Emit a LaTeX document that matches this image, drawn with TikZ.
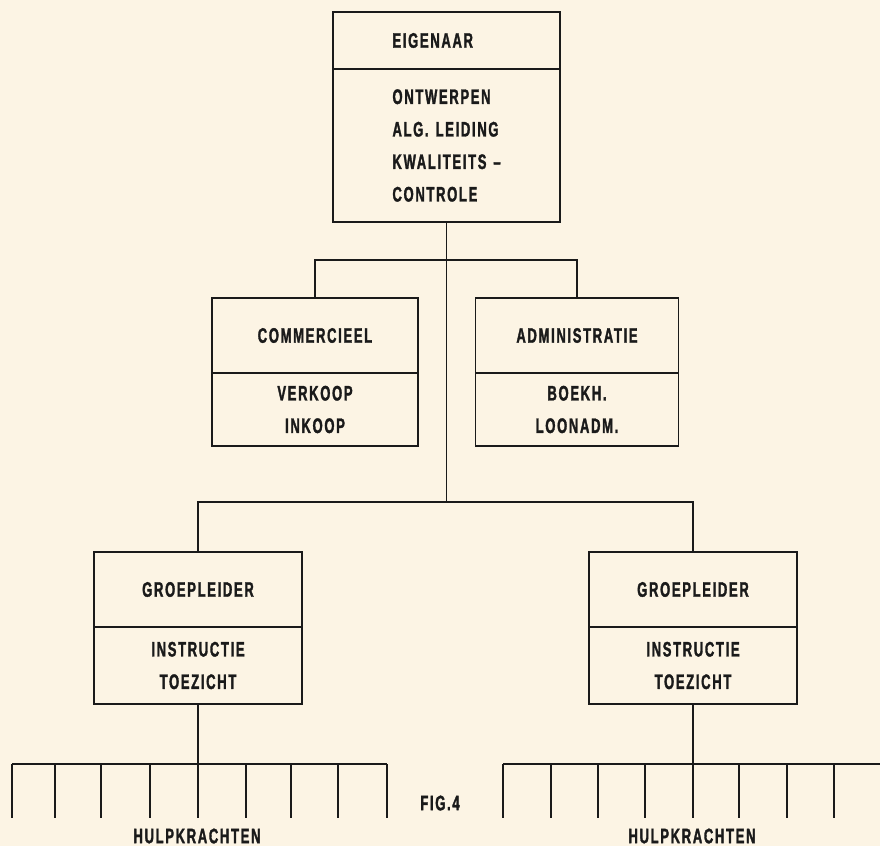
\documentclass[tikz,border=0pt]{standalone}
\usepackage{fontspec}
\newfontfamily\orgfont{Liberation Sans}[FakeStretch=0.62,LetterSpace=8,FakeBold=1.5]
\usetikzlibrary{positioning}
\tikzset{>=latex}
\definecolor{paper}{HTML}{FCF4E4}
\definecolor{ink}{HTML}{1A1A1A}

\begin{document}
\begin{tikzpicture}[x=1pt,y=-1pt,
  every node/.style={font=\orgfont\bfseries\fontsize{21}{32.5}\selectfont,
    text=ink, inner sep=0pt, outer sep=0pt},
  kop/.style={draw=ink, line width=1.8pt, minimum height=75pt, align=center},
  taak/.style={draw=ink, line width=1.8pt, minimum height=73pt, align=center},
  link/.style={draw=ink, line width=1.2pt}]
\fill[paper] (0,0) rectangle (880,846);
\useasboundingbox (0,0) rectangle (880,846);

\node[kop, minimum width=227pt, minimum height=57pt, text width=108pt, align=left] (eig) at (446.5,40.5) {EIGENAAR};
\node[taak, minimum width=227pt, minimum height=153pt, text width=108pt, align=left, below=0pt of eig] (eigtaak)
  {ONTWERPEN\\ALG. LEIDING\\\mbox{KWALITEITS –}\\CONTROLE};

\node[kop, minimum width=206pt] (com) at (315,335.5) {COMMERCIEEL};
\node[taak, minimum width=206pt, below=0pt of com] (comtaak) {VERKOOP\\INKOOP};

\node[kop, minimum width=203pt] (adm) at (577,335.5) {ADMINISTRATIE};
\node[taak, minimum width=203pt, below=0pt of adm] (admtaak) {BOEKH.\\LOONADM.};

\node[kop, minimum width=208pt] (gl1) at (198,589.5) {GROEPLEIDER};
\node[taak, minimum width=208pt, minimum height=77pt, below=0pt of gl1] (gl1taak) {INSTRUCTIE\\TOEZICHT};

\node[kop, minimum width=208pt] (gl2) at (693,589.5) {GROEPLEIDER};
\node[taak, minimum width=208pt, minimum height=77pt, below=0pt of gl2] (gl2taak) {INSTRUCTIE\\TOEZICHT};

\coordinate (top) at (eigtaak.south |- 0,260);
\coordinate (mid) at (eigtaak.south |- 0,502);
\draw[link] (eigtaak.south) -- (mid);
\draw[link] (com.north) |- (top) -| (adm.north);
\draw[link] (gl1.north) |- (mid) -| (gl2.north);

\coordinate (bar1) at (gl1taak.south |- 0,764);
\coordinate (bar2) at (gl2taak.south |- 0,764);
\draw[link] (gl1taak.south) -- (bar1);
\draw[link] (gl2taak.south) -- (bar2);
\draw[link] (12,764) -- (387,764);
\draw[link] (12,764) -- ++(0,54) (55,764) -- ++(0,54) (101,764) -- ++(0,54)
  (150,764) -- ++(0,54) (198,764) -- ++(0,54) (246,764) -- ++(0,54)
  (291,764) -- ++(0,54) (338,764) -- ++(0,54) (387,764) -- ++(0,54);
\draw[link] (503,764) -- (880,764);
\draw[link] (503,764) -- ++(0,54) (551,764) -- ++(0,54) (598,764) -- ++(0,54)
  (645,764) -- ++(0,54) (693,764) -- ++(0,54) (739,764) -- ++(0,54)
  (787,764) -- ++(0,54) (834,764) -- ++(0,54);

\node (hulp1) at (197,836) {HULPKRACHTEN};
\node (hulp2) at (692,836) {HULPKRACHTEN};
\node (fig) at (440,803) {FIG.4};
\end{tikzpicture}
\end{document}
